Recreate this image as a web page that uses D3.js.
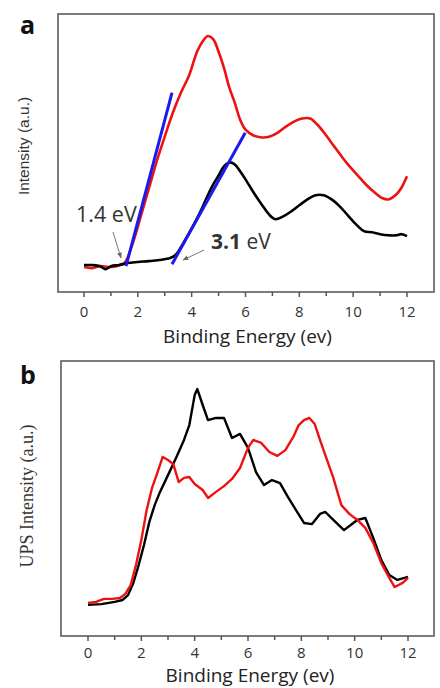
<!DOCTYPE html>
<html><head><meta charset="utf-8">
<script src="https://cdn.jsdelivr.net/npm/d3@7"></script>
<style>body{margin:0;background:#fff}svg{display:block}</style>
</head><body>
<svg id="c" width="440" height="688"></svg>
<script>
// ---------- data ----------
const xTicks = [0, 2, 4, 6, 8, 10, 12];
const xMinor = [1, 3, 5, 7, 9, 11];
const xTitle = "Binding Energy (ev)";

// panel a
const aRedX = [0,0.3,0.6,0.9,1.2,1.5,1.8,2.1,2.4,2.7,3.0,3.3,3.6,3.9,4.2,4.4,4.6,4.8,5.0,5.2,5.4,5.6,5.8,6.0,6.3,6.6,6.9,7.2,7.5,7.8,8.1,8.4,8.7,9.0,9.3,9.6,9.9,10.2,10.5,10.8,11.1,11.3,11.6,11.8,12.0];
const aRedY = [9.0,8.6,9.3,9.0,9.3,10.4,17.2,26.9,36.9,47.0,55.9,64.5,71.7,77.8,86.4,90.0,92.1,91.0,86.4,80.6,73.5,68.1,62.0,58.4,56.3,55.6,55.9,57.3,59.5,61.3,62.4,62.4,59.9,56.3,52.3,48.4,44.8,41.6,38.4,35.8,33.7,33.3,35.1,37.6,41.6];
const aBlkX = [0,0.3,0.6,0.8,1.0,1.3,1.6,2.0,2.4,2.8,3.2,3.4,3.6,3.8,4.0,4.2,4.4,4.6,4.8,5.0,5.2,5.4,5.6,5.8,6.0,6.3,6.6,6.9,7.1,7.4,7.7,8.0,8.3,8.6,8.9,9.2,9.5,9.8,10.1,10.4,10.7,11.0,11.3,11.6,11.8,12.0];
const aBlkY = [9.7,9.7,9.3,8.2,9.3,9.7,10.4,10.8,11.1,11.5,12.2,13.3,16.1,19.4,22.9,26.5,30.5,34.8,38.7,41.9,45.2,46.6,45.9,43.4,40.5,35.8,31.5,27.6,26.2,27.2,29.0,31.2,33.3,34.8,34.8,33.3,30.8,27.6,24.4,21.9,21.5,20.8,20.4,20.4,20.8,20.1];
const aFit1X = [1.56, 3.27], aFit1Y = [9.3, 71.7];
const aFit2X = [3.27, 5.99], aFit2Y = [10.0, 57.3];
const aYTitle = "Intensity (a.u.)";

// panel b
const bRedX = [0,0.3,0.6,0.9,1.2,1.4,1.6,1.8,2.0,2.2,2.4,2.6,2.8,3.0,3.2,3.4,3.6,3.8,4.0,4.3,4.5,4.8,5.1,5.4,5.7,6.0,6.2,6.5,6.8,7.1,7.4,7.7,7.9,8.1,8.3,8.5,8.7,8.9,9.2,9.5,9.8,10.1,10.4,10.7,11.0,11.3,11.5,11.8,12.0];
const bRedY = [12.0,12.4,13.5,13.5,13.8,15.3,18.5,25.8,34.9,45.8,53.8,59.3,65.1,64.0,62.5,56.0,57.5,57.8,55.3,53.1,50.2,52.4,54.5,57.1,61.1,68.4,71.3,70.2,66.9,65.5,67.6,72.4,76.7,78.5,79.3,77.1,71.3,65.8,57.5,47.6,44.4,42.2,39.3,33.8,26.5,21.1,17.8,19.3,21.1];
const bBlkX = [0,0.5,1.0,1.3,1.5,1.7,1.9,2.1,2.3,2.5,2.7,3.0,3.3,3.6,3.8,4.0,4.1,4.3,4.5,4.8,5.1,5.4,5.7,6.0,6.3,6.6,6.9,7.2,7.5,7.8,8.1,8.4,8.7,8.9,9.2,9.6,9.9,10.1,10.4,10.7,11.0,11.3,11.6,12.0];
const bBlkY = [11.3,11.6,12.4,13.1,14.9,19.3,25.8,33.1,41.5,47.6,52.4,58.5,64.7,71.3,76.7,87.6,89.8,84.0,78.5,79.3,79.3,72.0,73.5,68.4,59.6,54.9,56.7,55.6,50.5,45.8,41.1,40.7,44.4,45.1,42.2,38.5,40.7,42.2,42.9,35.6,27.6,22.2,20.4,21.5];
const bYTitle = "UPS Intensity (a.u.)";

// ---------- drawing ----------
const svg = d3.select("#c");
const zip = (xs, ys) => xs.map((x, i) => [x, ys[i]]);

function panel(box, opt) {
  const x = d3.scaleLinear().domain([0, 12]).range([box.x0, box.x1]);
  const y = d3.scaleLinear().domain([0, 100]).range([box.y1, box.y0]);
  const g = svg.append("g");
  g.append("rect").attr("x", box.l).attr("y", box.y0).attr("width", box.r - box.l).attr("height", box.y1 - box.y0)
    .attr("fill", "none").attr("stroke", "#6e6e6e").attr("stroke-width", 1.8);
  g.selectAll(".maj").data(xTicks).join("line")
    .attr("x1", d => x(d)).attr("x2", d => x(d)).attr("y1", box.y1).attr("y2", box.y1 + 5)
    .attr("stroke", "#555").attr("stroke-width", 1.5);
  g.selectAll(".min").data(xMinor).join("line")
    .attr("x1", d => x(d)).attr("x2", d => x(d)).attr("y1", box.y1).attr("y2", box.y1 + 4)
    .attr("stroke", "#555").attr("stroke-width", 1.5);
  g.selectAll(".tl").data(xTicks).join("text")
    .attr("x", d => x(d)).attr("y", box.y1 + opt.tickOff).attr("text-anchor", "middle")
    .attr("font-family", "'Open Sans', sans-serif").attr("font-size", 15).attr("fill", "#333")
    .text(d => d);
  g.append("text").attr("x", (box.x0 + box.x1) / 2 + 2).attr("y", box.y1 + opt.titleOff).attr("text-anchor", "middle")
    .attr("font-family", "'Open Sans', sans-serif").attr("font-size", 19).attr("fill", "#222")
    .text(xTitle);
  g.append("text").attr("transform", `translate(${opt.ytx},${opt.yty}) rotate(-90)`).attr("text-anchor", "middle")
    .attr("font-family", opt.yfont).attr("font-size", opt.ysize).attr("fill", "#333")
    .text(opt.ytitle);
  g.append("text").attr("x", 20).attr("y", opt.ly).attr("font-family", "'Open Sans', sans-serif")
    .attr("font-weight", "bold").attr("font-size", 25).attr("fill", "#111").text(opt.letter);
  return {x, y, g};
}

// panel a
const A = panel({l: 58, r: 434, x0: 84, x1: 407, y0: 14, y1: 292},
  {ytitle: aYTitle, ytx: 29, yty: 146, yfont: "'Liberation Sans', Arial, sans-serif", ysize: 15.5, letter: "a", ly: 34, tickOff: 25, titleOff: 51});
const lineA = d3.line().x(d => A.x(d[0])).y(d => A.y(d[1])).curve(d3.curveCatmullRom.alpha(0.5));
A.g.append("path").datum(zip(aRedX, aRedY)).attr("d", lineA).attr("fill", "none").attr("stroke", "#ee1111").attr("stroke-width", 2.6);
A.g.append("path").datum(zip(aBlkX, aBlkY)).attr("d", lineA).attr("fill", "none").attr("stroke", "#000").attr("stroke-width", 2.6);
const straight = d3.line().x(d => A.x(d[0])).y(d => A.y(d[1]));
A.g.append("path").datum(zip(aFit1X, aFit1Y)).attr("d", straight).attr("stroke", "#1a1aee").attr("stroke-width", 3);
A.g.append("path").datum(zip(aFit2X, aFit2Y)).attr("d", straight).attr("stroke", "#1a1aee").attr("stroke-width", 3);

// annotations
const defs = svg.append("defs");
defs.append("marker").attr("id", "ah").attr("viewBox", "0 0 10 10").attr("refX", 9).attr("refY", 5)
  .attr("markerWidth", 6).attr("markerHeight", 6).attr("orient", "auto")
  .append("path").attr("d", "M0,1 L10,5 L0,9 Z").attr("fill", "#666");
A.g.append("line").attr("x1", 113).attr("y1", 232).attr("x2", 121).attr("y2", 258)
  .attr("stroke", "#777").attr("stroke-width", 1).attr("marker-end", "url(#ah)");
A.g.append("line").attr("x1", 204).attr("y1", 250).attr("x2", 183).attr("y2", 260)
  .attr("stroke", "#777").attr("stroke-width", 1).attr("marker-end", "url(#ah)");
A.g.append("text").attr("x", 76).attr("y", 222).attr("font-family", "'Open Sans', sans-serif")
  .attr("font-size", 21.5).attr("fill", "#333").text("1.4 eV");
const t2 = A.g.append("text").attr("x", 211).attr("y", 249).attr("font-family", "'Open Sans', sans-serif")
  .attr("font-size", 21).attr("fill", "#333");
t2.append("tspan").attr("font-weight", "bold").text("3.1");
t2.append("tspan").text(" eV");

// panel b
const B = panel({l: 61, r: 434, x0: 88, x1: 408, y0: 361, y1: 636},
  {ytitle: bYTitle, ytx: 33, yty: 496, yfont: "'Liberation Serif', 'Times New Roman', serif", ysize: 18, letter: "b", ly: 384, tickOff: 22, titleOff: 46});
const lineB = d3.line().x(d => B.x(d[0])).y(d => B.y(d[1])).curve(d3.curveLinear);
B.g.append("path").datum(zip(bBlkX, bBlkY)).attr("d", lineB).attr("fill", "none").attr("stroke", "#000").attr("stroke-width", 2.4).attr("stroke-linejoin", "round");
B.g.append("path").datum(zip(bRedX, bRedY)).attr("d", lineB).attr("fill", "none").attr("stroke", "#ee1111").attr("stroke-width", 2.4).attr("stroke-linejoin", "round");
</script>
</body></html>
